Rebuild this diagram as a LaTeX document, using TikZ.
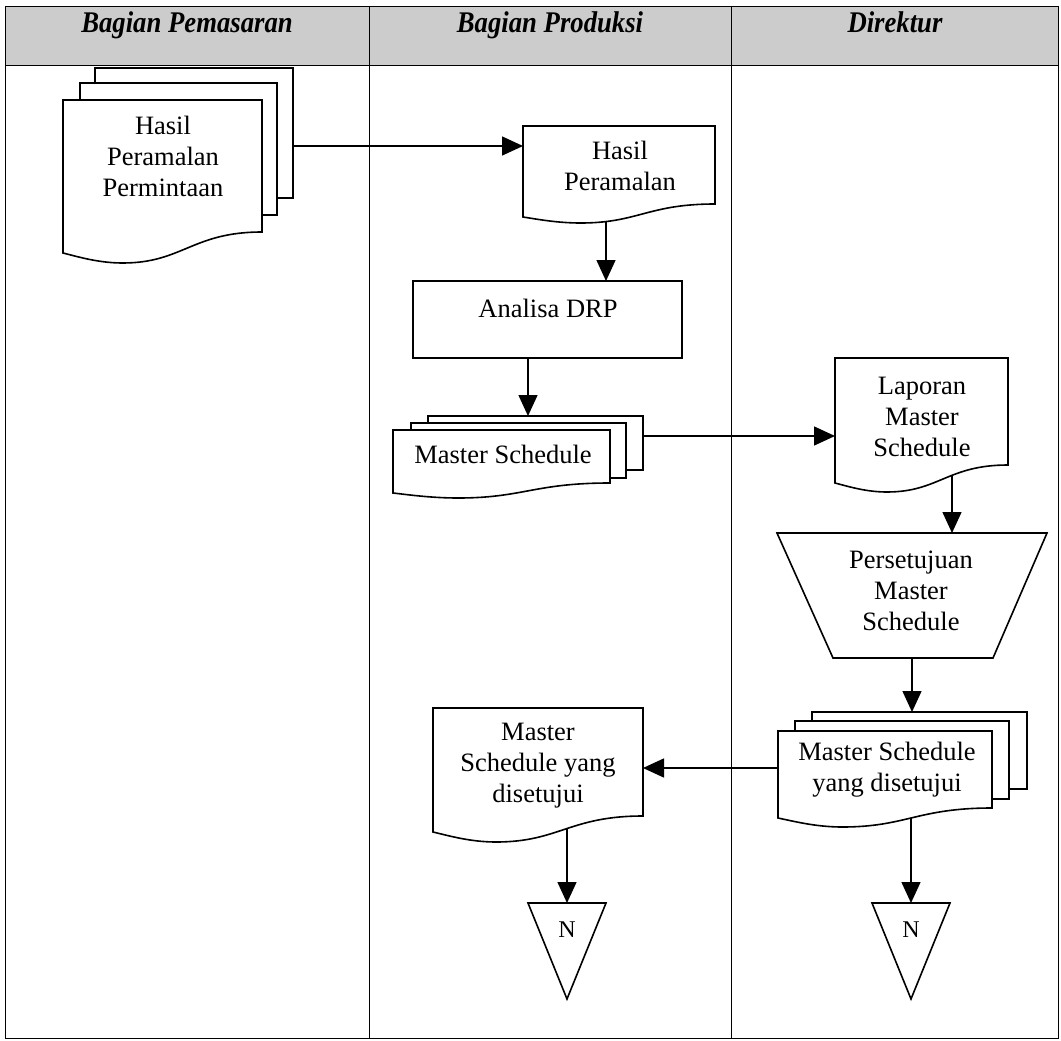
\documentclass[tikz,border=0pt]{standalone}
\usepackage{fontspec}
\setmainfont{Liberation Serif}
\usepackage{graphicx}
\usetikzlibrary{arrows.meta,calc}
\tikzset{
  shp/.style={draw, line width=1.6pt, fill=white},
  arr/.style={line width=1.5pt, -{Triangle[length=21pt,width=19pt]}},
  txt/.style={font=\fontsize{26.5}{31}\selectfont, align=center, inner sep=0pt},
  hdr/.style={font=\fontsize{30}{36}\selectfont\bfseries\itshape, inner sep=0pt, anchor=base},
  frame/.style={draw, line width=0.9pt},
  ghost/.style={draw=none, inner sep=0pt, outer sep=0pt},
}
\newcommand\pagebox[5]{\node[shp, inner sep=0pt, outer sep=0pt, minimum width={(#4-#2)*1pt}, minimum height={(#5-#3)*1pt}] (#1) at ({(#2+#4)/2},{(#3+#5)/2}) {};}
\newcommand\docnode[7]{%
  \pgfmathsetmacro\dw{#4-#2}%
  \pgfmathsetmacro\mx{#2+0.3*\dw}%
  \pgfmathsetmacro\dd{0.4*(#7-#6)}%
  \draw[shp] (#4,#5) -- (#4,#3) -- (#2,#3) -- (#2,#6) .. controls +({0.08*\dw},\dd) and +({-0.12*\dw},0) .. (\mx,#7) .. controls +({0.3*\dw},0) and +({-0.35*\dw},0) .. (#4,#5) -- cycle;
  \node[ghost, minimum width={(#4-#2)*1pt}, minimum height={(#5-#3)*1pt}] (#1) at ({(#2+#4)/2},{(#3+#5)/2}) {};
}
\begin{document}
\begin{tikzpicture}[x=1pt,y=-1pt]
\useasboundingbox (0,0) rectangle (1061,1041);
% header and frame
\fill[black!20] (5,6) rectangle (1058,65);
\draw[frame] (5,6) rectangle (1058,1038);
\draw[frame] (5,65) -- (1058,65);
\draw[frame] (369,6) -- (369,1038);
\draw[frame] (731,6) -- (731,1038);
\node[hdr] (h1) at (187,33) {\scalebox{0.89}[1]{Bagian Pemasaran}};
\node[hdr] (h2) at (550,33) {\scalebox{0.89}[1]{Bagian Produksi}};
\node[hdr] (h3) at (895,33) {\scalebox{0.89}[1]{Direktur}};

% Hasil Peramalan Permintaan (multi document)
\pagebox{tl3}{95}{68}{293}{198}
\pagebox{tl2}{80}{83}{277}{215}
\docnode{tl1}{63}{100}{262}{232}{253}{263}
\node[txt] (tl1t) at (163,156) {Hasil\\Peramalan\\Permintaan};

% Hasil Peramalan
\docnode{hp}{523}{126}{715}{204}{217}{223}
\node[txt] (hpt) at (620,166) {Hasil\\Peramalan};

% Analisa DRP
\node[shp, inner sep=0pt, outer sep=0pt, minimum width=269pt, minimum height=77pt] (drp) at (547.5,319.5) {};
\node[txt] (drpt) at (548,308) {Analisa DRP};

% Master Schedule (multi document)
\pagebox{ms3}{428}{416}{643}{470}
\pagebox{ms2}{411}{423}{626}{478}
\docnode{ms1}{393}{430}{610}{483}{493}{498}
\node[txt] (ms1t) at (503,454) {Master Schedule};

% Laporan Master Schedule
\docnode{lap}{835}{358}{1008}{465}{483}{492}
\node[txt] (lapt) at (922,417) {Laporan\\Master\\Schedule};

% Persetujuan (manual operation)
\node[ghost, minimum width=270pt, minimum height=125pt] (trap) at (912,595.5) {};
\draw[shp] (trap.north west) -- (trap.north east) -- ($(trap.south east)+(-54,0)$) -- ($(trap.south west)+(56,0)$) -- cycle;
\node[txt] (trapt) at (911,591) {Persetujuan\\Master\\Schedule};

% Master Schedule yang disetujui (multi document)
\pagebox{msd3}{812}{712}{1027}{789}
\pagebox{msd2}{795}{721}{1009}{799}
\docnode{msd1}{778}{731}{992}{808}{818}{827}
\node[txt] (msd1t) at (887,770) {Master Schedule\\yang disetujui};

% Master Schedule yang disetujui (left)
\docnode{lmsd}{433}{708}{643}{816}{832}{842}
\node[txt] (lmsdt) at (538,766) {Master\\Schedule yang\\disetujui};

% Off-page connectors
\node[ghost, minimum width=78pt, minimum height=96pt] (tri1) at (567,951) {};
\draw[shp] (tri1.north west) -- (tri1.north east) -- (tri1.south) -- cycle;
\node[txt, font=\fontsize{24}{28}\selectfont] (n1) at (567,930) {N};
\node[ghost, minimum width=78pt, minimum height=96pt] (tri2) at (911,951) {};
\draw[shp] (tri2.north west) -- (tri2.north east) -- (tri2.south) -- cycle;
\node[txt, font=\fontsize{24}{28}\selectfont] (n2) at (911,930) {N};

% guide coordinates
\coordinate (ya) at (0,146);
\coordinate (xb) at (606,0);
\coordinate (xc) at (528,0);
\coordinate (yd) at (0,436);
\coordinate (xe) at (952,0);
\coordinate (xf) at (912,0);
\coordinate (yg) at (0,768);
\coordinate (xh) at (911,0);
\coordinate (xi) at (567,0);

% connectors
\draw[arr] (tl3.east |- ya) -- (hp.west |- ya);
\draw[arr] ($(xb |- hp.south)+(0,17)$) -- (xb |- drp.north);
\draw[arr] (xc |- drp.south) -- (xc |- ms3.north);
\draw[arr] (ms3.east |- yd) -- (lap.west |- yd);
\draw[arr] ($(xe |- lap.south)+(0,10)$) -- (xe |- trap.north);
\draw[arr] (xf |- trap.south) -- (xf |- msd3.north);
\draw[arr] (msd1.west |- yg) -- (lmsd.east |- yg);
\draw[arr] ($(xh |- msd1.south)+(0,10)$) -- (xh |- tri2.north);
\draw[arr] ($(xi |- lmsd.south)+(0,12)$) -- (xi |- tri1.north);
\end{tikzpicture}
\end{document}
